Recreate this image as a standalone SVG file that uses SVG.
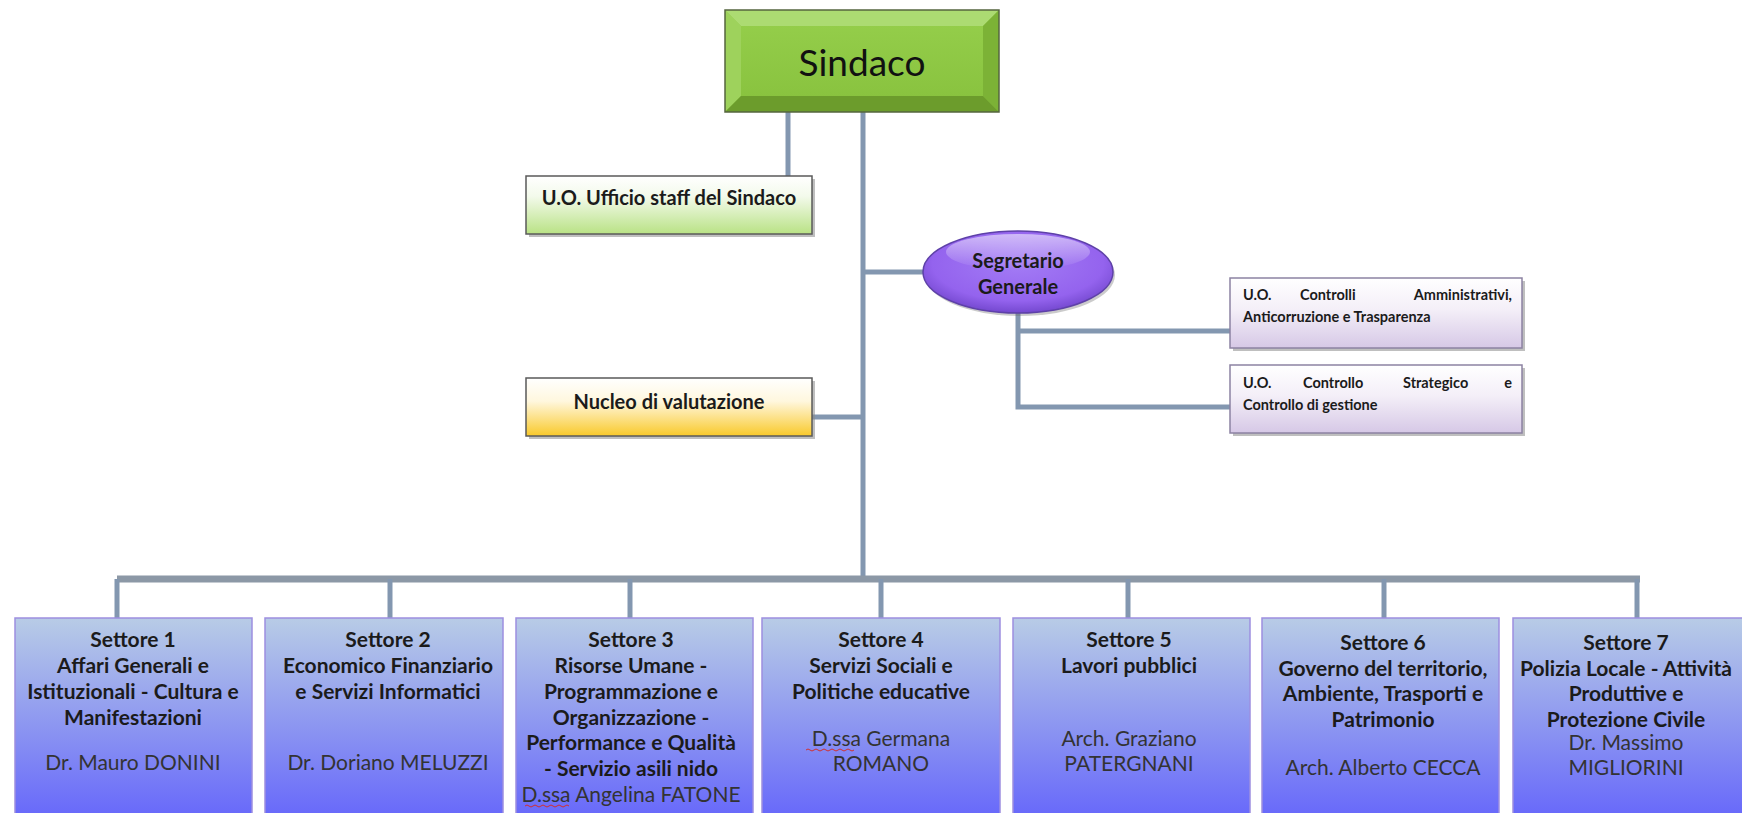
<svg xmlns="http://www.w3.org/2000/svg" width="1742" height="813" viewBox="0 0 1742 813">
<defs>
<linearGradient id="gSet" x1="0" y1="0" x2="0" y2="1"><stop offset="0" stop-color="#b8cce6"/><stop offset="1" stop-color="#6565fb"/></linearGradient>
<linearGradient id="gStaff" x1="0" y1="0" x2="0" y2="1"><stop offset="0" stop-color="#ffffff"/><stop offset="0.35" stop-color="#f3faeb"/><stop offset="1" stop-color="#b9e285"/></linearGradient>
<linearGradient id="gNuc" x1="0" y1="0" x2="0" y2="1"><stop offset="0" stop-color="#ffffff"/><stop offset="0.4" stop-color="#fff7de"/><stop offset="1" stop-color="#f9c92a"/></linearGradient>
<linearGradient id="gCtl" x1="0" y1="0" x2="0" y2="1"><stop offset="0" stop-color="#ffffff"/><stop offset="0.45" stop-color="#f4eff8"/><stop offset="1" stop-color="#d6c8e6"/></linearGradient>
<linearGradient id="gSind" x1="0" y1="0" x2="0" y2="1"><stop offset="0" stop-color="#96cf4c"/><stop offset="1" stop-color="#87c13d"/></linearGradient>
<radialGradient id="gSeg" cx="0.5" cy="0.4" r="0.6"><stop offset="0" stop-color="#a37cf5"/><stop offset="0.75" stop-color="#9463ee"/><stop offset="1" stop-color="#7448cf"/></radialGradient>
<linearGradient id="gSegHi" x1="0" y1="0" x2="0" y2="1"><stop offset="0" stop-color="#ffffff" stop-opacity="0.55"/><stop offset="1" stop-color="#ffffff" stop-opacity="0"/></linearGradient>
</defs>
<style>
.ln{stroke:#8397b0;stroke-width:5;fill:none}
.bus{stroke:#8c98a6;stroke-width:7;fill:none}
.set{fill:url(#gSet);stroke:#9d8fe0;stroke-width:1.5}
.sh{fill:#8a8a8a;opacity:0.55}
.b{font-family:Lato,"Liberation Sans",sans-serif;font-weight:bold;font-size:21px;fill:#1b1b1b;text-anchor:middle}
.r{font-family:Lato,"Liberation Sans",sans-serif;font-size:21px;fill:#333;text-anchor:middle}
.t{font-family:Lato,"Liberation Sans",sans-serif;font-weight:bold;font-size:20px;fill:#1b1b1b;text-anchor:middle}
.s{font-family:Lato,"Liberation Sans",sans-serif;font-weight:bold;font-size:14.5px;fill:#1b1b1b}
</style>
<g id="connectors">
<path class="ln" d="M788 112V176"/>
<path class="ln" d="M863 112V579"/>
<path class="ln" d="M863 272H925"/>
<path class="ln" d="M812 417H863"/>
<path class="ln" d="M1018 312V407H1230M1018 331H1230"/>
<path class="bus" d="M117 579H1640"/>
<path class="ln" d="M117 579V618M390 579V618M630 579V618M881 579V618M1128 579V618M1384 579V618M1637 579V618"/>
</g>
<g id="sindaco">
<rect x="725" y="10" width="274" height="102" fill="url(#gSind)"/>
<polygon points="725,10 999,10 983,26 741,26" fill="#acdb72"/>
<polygon points="725,10 741,26 741,96 725,112" fill="#9ed25c"/>
<polygon points="999,10 999,112 983,96 983,26" fill="#7cb236"/>
<polygon points="725,112 741,96 983,96 999,112" fill="#6c9c2c"/>
<rect x="725" y="10" width="274" height="102" fill="none" stroke="#55653f" stroke-width="1.5"/>
<text x="862" y="76" font-family="Lato,'Liberation Sans',sans-serif" font-size="37" fill="#111" text-anchor="middle">Sindaco</text>
</g>
<g id="staff">
<rect class="sh" x="529" y="179" width="286" height="58"/>
<rect x="526" y="176" width="286" height="58" fill="url(#gStaff)" stroke="#5a5a5a" stroke-width="1.5"/>
<text class="t" x="669" y="205">U.O. Ufficio staff del Sindaco</text>
</g>
<g id="segretario">
<ellipse cx="1020" cy="275" rx="95" ry="41" fill="#6a6a6a" opacity="0.35"/>
<ellipse cx="1018" cy="272" rx="95" ry="41" fill="url(#gSeg)" stroke="#5e41a8" stroke-width="1.5"/>
<ellipse cx="1018" cy="252" rx="72" ry="18" fill="url(#gSegHi)"/>
<text class="t" x="1018" y="268" fill="#141432">Segretario</text>
<text class="t" x="1018" y="294" fill="#141432">Generale</text>
</g>
<g id="controlli-amm">
<rect class="sh" x="1233" y="281" width="292" height="70"/>
<rect x="1230" y="278" width="292" height="70" fill="url(#gCtl)" stroke="#8c82a2" stroke-width="1.5"/>
<text class="s" y="300"><tspan x="1243">U.O.</tspan><tspan x="1300">Controlli</tspan><tspan x="1512" text-anchor="end">Amministrativi,</tspan></text>
<text class="s" x="1243" y="322">Anticorruzione e Trasparenza</text>
</g>
<g id="controllo-strat">
<rect class="sh" x="1233" y="368" width="292" height="68"/>
<rect x="1230" y="365" width="292" height="68" fill="url(#gCtl)" stroke="#8c82a2" stroke-width="1.5"/>
<text class="s" y="388"><tspan x="1243">U.O.</tspan><tspan x="1303">Controllo</tspan><tspan x="1403">Strategico</tspan><tspan x="1512" text-anchor="end">e</tspan></text>
<text class="s" x="1243" y="410">Controllo di gestione</text>
</g>
<g id="nucleo">
<rect class="sh" x="529" y="381" width="286" height="58"/>
<rect x="526" y="378" width="286" height="58" fill="url(#gNuc)" stroke="#5a5a5a" stroke-width="1.5"/>
<text class="t" x="669" y="409">Nucleo di valutazione</text>
</g>
<g id="settore1">
<rect class="set" x="15" y="618" width="237" height="205"/>
<text class="b" x="133" y="647">Settore 1</text>
<text class="b" x="133" y="673">Affari Generali e</text>
<text class="b" x="133" y="699">Istituzionali - Cultura e</text>
<text class="b" x="133" y="725">Manifestazioni</text>
<text class="r" x="133" y="770">Dr. Mauro DONINI</text>
</g>
<g id="settore2">
<rect class="set" x="265" y="618" width="238" height="205"/>
<text class="b" x="388" y="647">Settore  2</text>
<text class="b" x="388" y="673">Economico Finanziario</text>
<text class="b" x="388" y="699">e Servizi Informatici</text>
<text class="r" x="388" y="770">Dr. Doriano MELUZZI</text>
</g>
<g id="settore3">
<rect class="set" x="516" y="618" width="237" height="205"/>
<text class="b" x="631" y="647">Settore  3</text>
<text class="b" x="631" y="673">Risorse Umane -</text>
<text class="b" x="631" y="699">Programmazione e</text>
<text class="b" x="631" y="725">Organizzazione -</text>
<text class="b" x="631" y="750">Performance e Qualità</text>
<text class="b" x="631" y="776">- Servizio asili nido</text>
<text class="r" x="631" y="802">D.ssa Angelina FATONE</text>
<path d="M525 806q2-2 4 0t4 0t4 0t4 0t4 0t4 0t4 0t4 0t4 0t4 0t4 0" stroke="#d03030" stroke-width="1" fill="none"/>
</g>
<g id="settore4">
<rect class="set" x="762" y="618" width="238" height="205"/>
<text class="b" x="881" y="647">Settore 4</text>
<text class="b" x="881" y="673">Servizi Sociali e</text>
<text class="b" x="881" y="699">Politiche educative</text>
<text class="r" x="881" y="746">D.ssa Germana</text>
<text class="r" x="881" y="771">ROMANO</text>
<path d="M806 750q2-2 4 0t4 0t4 0t4 0t4 0t4 0t4 0t4 0t4 0t4 0t4 0t4 0" stroke="#d03030" stroke-width="1" fill="none"/>
</g>
<g id="settore5">
<rect class="set" x="1013" y="618" width="237" height="205"/>
<text class="b" x="1129" y="647">Settore 5</text>
<text class="b" x="1129" y="673">Lavori pubblici</text>
<text class="r" x="1129" y="746">Arch. Graziano</text>
<text class="r" x="1129" y="771">PATERGNANI</text>
</g>
<g id="settore6">
<rect class="set" x="1262" y="618" width="237" height="205"/>
<text class="b" x="1383" y="650">Settore 6</text>
<text class="b" x="1383" y="676">Governo del territorio,</text>
<text class="b" x="1383" y="701">Ambiente, Trasporti  e</text>
<text class="b" x="1383" y="727">Patrimonio</text>
<text class="r" x="1383" y="775">Arch. Alberto CECCA</text>
</g>
<g id="settore7">
<rect class="set" x="1513" y="618" width="240" height="205"/>
<text class="b" x="1626" y="650">Settore  7</text>
<text class="b" x="1626" y="676">Polizia Locale - Attività</text>
<text class="b" x="1626" y="701">Produttive  e</text>
<text class="b" x="1626" y="727">Protezione Civile</text>
<text class="r" x="1626" y="750">Dr. Massimo</text>
<text class="r" x="1626" y="775">MIGLIORINI</text>
</g>
</svg>
